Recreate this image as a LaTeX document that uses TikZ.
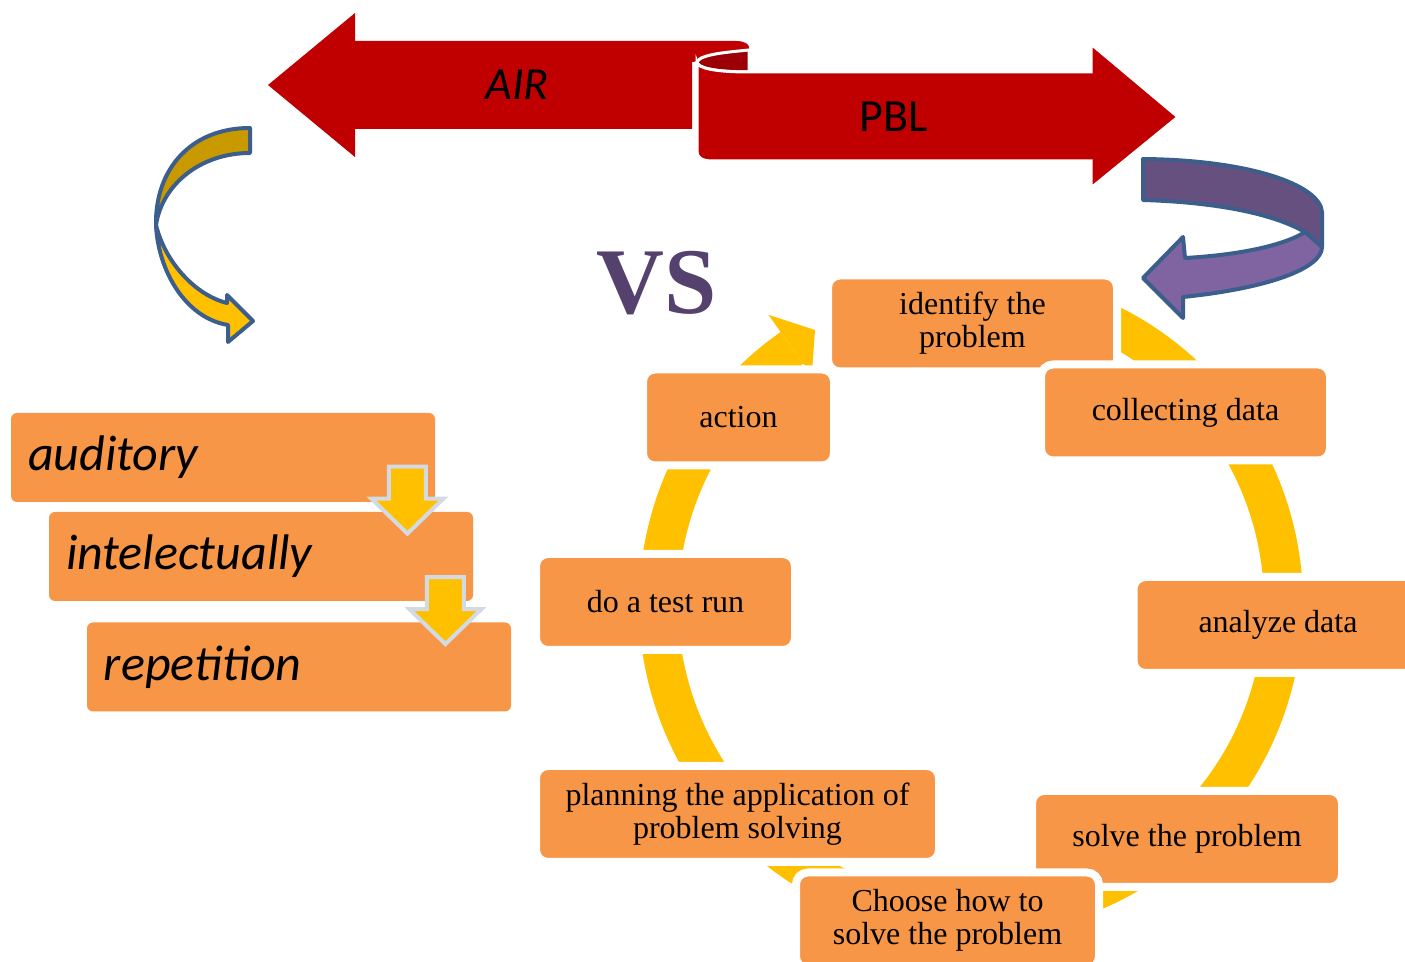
\documentclass[tikz,border=0pt]{standalone}
\usepackage{fontspec}
\usepackage{tikz}
\usetikzlibrary{calc}
\newfontfamily\calfont{Carlito}
\newfontfamily\vsfont{Liberation Serif}
\definecolor{bannerred}{HTML}{C00000}
\definecolor{bannerdark}{HTML}{9C0006}
\definecolor{boxorange}{HTML}{F79646}
\definecolor{ringyellow}{HTML}{FFC000}
\definecolor{curlblue}{HTML}{3B5E8C}
\definecolor{goldtop}{HTML}{C99A00}
\definecolor{purpletop}{HTML}{65507F}
\definecolor{purplebot}{HTML}{8064A2}
\definecolor{vspurple}{HTML}{55416E}
\definecolor{arrowgray}{HTML}{D3DAE3}

\begin{document}
\begin{tikzpicture}[x=0.5pt,y=-0.5pt,
    stepbox/.style={fill=boxorange,draw=white,line width=4pt,rounded corners=6pt,
      minimum height=48pt,inner sep=0pt,align=center,font=\vsfont\fontsize{16}{16.5}\selectfont},
    airbox/.style={fill=boxorange,rounded corners=3pt,minimum width=212pt,minimum height=44.5pt,
      text width=195pt,align=left,inner xsep=8.5pt,font=\calfont\itshape\fontsize{25}{30}\selectfont},
    bannertext/.style={font=\calfont\fontsize{23}{27}\selectfont},
    ring/.style={draw=ringyellow,line width=19.5pt},
    downarr/.style={fill=ringyellow,draw=arrowgray,line width=2pt},
    curl/.style={draw=curlblue,line width=2pt,line join=round}]
  \useasboundingbox (0,0) rectangle (1405,962);

  % banners
  \fill[bannerred] (268,85) -- (355,13) -- (355,41) -- (736,41) .. controls (744,41) and (749,44) .. (749,47)
    -- (749,55) -- (692,62) -- (692,129) -- (355,129) -- (355,157) -- cycle;
  \filldraw[fill=bannerdark,draw=white,line width=1.5pt] (749,50) .. controls (730,52) and (700,54) .. (697,62)
    .. controls (697,68) and (715,72) .. (749,72) -- cycle;
  \filldraw[fill=bannerred,draw=white,line width=1.5pt] (697,62) .. controls (697,68) and (715,72) .. (749,72)
    -- (1091,72) -- (1091,44) -- (1178,117) -- (1091,188) -- (1091,161) -- (712,161)
    .. controls (703,161) and (697,158) .. (697,152) -- cycle;
  \node[bannertext,font=\calfont\itshape\fontsize{23}{27}\selectfont] (air) at (517,85) {AIR};
  \node[bannertext] (pbl) at (894,117) {PBL};

  % curved arrows
  \filldraw[curl,fill=goldtop] (250,128) .. controls (190,128) and (155,170) .. (156,225)
    .. controls (162,185) and (200,153) .. (250,153) -- cycle;
  \filldraw[curl,fill=ringyellow] (156,225) .. controls (158,270) and (185,318) .. (228,325) -- (228,342)
    -- (253,321) -- (227,295) -- (227,303) .. controls (195,295) and (165,262) .. (156,225) -- cycle;
  \filldraw[curl,fill=purpletop] (1143,159) .. controls (1250,160) and (1320,185) .. (1322,212) -- (1322,247)
    -- (1305,232) .. controls (1270,212) and (1210,202) .. (1143,200) -- cycle;
  \filldraw[curl,fill=purplebot] (1305,232) -- (1322,247) .. controls (1322,268) and (1270,288) .. (1183,297)
    -- (1183,318) -- (1143,278) -- (1183,237) -- (1185,258) .. controls (1240,255) and (1285,245) .. (1305,232) -- cycle;

  \node[text=vspurple,font=\vsfont\bfseries\fontsize{47}{50}\selectfont] (vs) at (657,283) {VS};

  % AIR steps
  \node[airbox] (aud) at (223,457.5) {auditory};
  \node[airbox] (intel) at (261,556.5) {intelectually};
  \node[airbox] (rep) at (299,667) {repetition};
  \draw[downarr] ($(intel.north -| aud.east)+(-28,22)$) -- ++(-36,-35) -- ++(17.5,0) -- ++(0,-32)
    -- ++(37,0) -- ++(0,32) -- ++(17.5,0) -- cycle;
  \draw[downarr] ($(rep.north -| intel.east)+(-28,22)$) -- ++(-36,-35) -- ++(17.5,0) -- ++(0,-32)
    -- ++(37,0) -- ++(0,32) -- ++(17.5,0) -- cycle;

  % PBL cycle
  \coordinate (hub) at (971,604);
  \draw[ring] ($(hub)+(-75:312.5)$) arc[start angle=-75,end angle=235,radius=312.5];
  \fill[ringyellow] ($(hub)+(235:330)$) -- ($(hub)+(235:353)$) -- (815,330) -- (812,372)
    -- ($(hub)+(235:294)$) -- cycle;
  \node[stepbox,minimum width=144.5pt] (identify) at (972.5,323.5) {identify the\\problem};
  \node[stepbox,minimum width=144.5pt] (collect) at (1185.5,412.5) {collecting data};
  \node[stepbox,minimum width=144.5pt] (analyze) at (1278,625) {analyze data};
  \node[stepbox,minimum width=155pt] (solve) at (1187,839) {solve the problem};
  \node[stepbox,minimum width=151.5pt] (choose) at (947.5,920.5) {Choose how to\\solve the problem};
  \node[stepbox,minimum width=201.5pt] (plan) at (737.5,814) {planning the application of\\problem solving};
  \node[stepbox,minimum width=129.5pt] (testrun) at (665.5,602) {do a test run};
  \node[stepbox,minimum width=95.5pt] (action) at (738.5,417.5) {action};
\end{tikzpicture}
\end{document}
